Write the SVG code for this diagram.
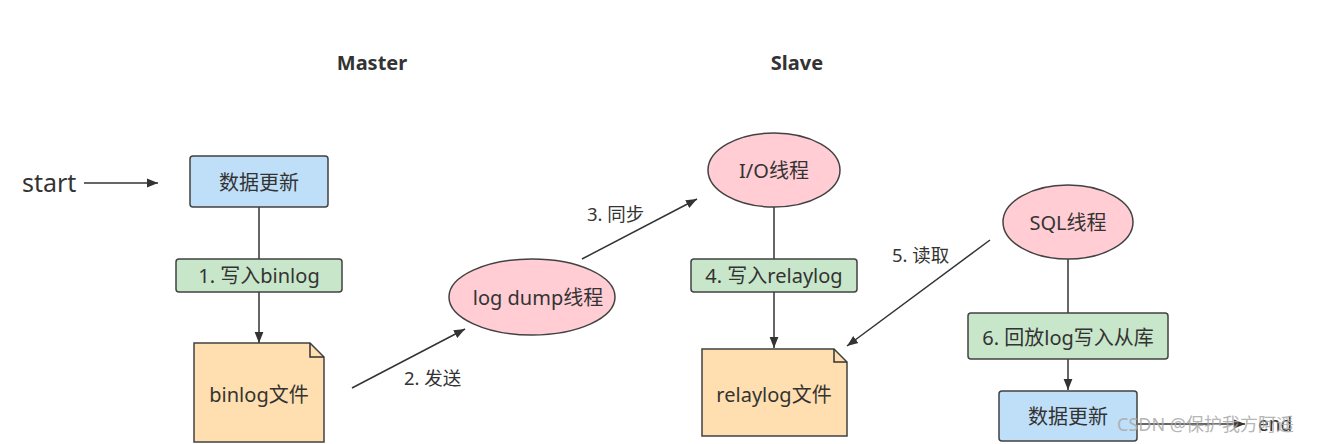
<svg xmlns="http://www.w3.org/2000/svg" width="1322" height="444" viewBox="0 0 1322 444">
<defs>
<style>
text{font-family:"Noto Sans","Noto Sans CJK SC",sans-serif;fill:#333;}
.t{font-size:20px;text-anchor:middle;dominant-baseline:central;}
.lb{font-size:18.5px;}
.h{font-size:20px;font-weight:bold;text-anchor:middle;}
.blue{fill:#bfdff9;stroke:#424242;stroke-width:1.5;}
.green{fill:#c8e6ca;stroke:#424242;stroke-width:1.5;}
.pink{fill:#ffcdd3;stroke:#424242;stroke-width:1.5;}
.doc{fill:#ffdfb0;stroke:#424242;stroke-width:1.5;}
.ln{stroke:#333;stroke-width:1.5;fill:none;}
.arr{stroke:#333;stroke-width:1.5;fill:none;marker-end:url(#ah);}
</style>
<marker id="ah" viewBox="0 0 10 10" refX="10" refY="5" markerWidth="11" markerHeight="11" markerUnits="userSpaceOnUse" orient="auto">
<path d="M0,1 L10,5 L0,9 z" fill="#333"/>
</marker>
</defs>

<text class="h" x="372" y="70">Master</text>
<text class="h" x="797" y="70">Slave</text>

<g id="connectors">
<line class="arr" x1="84" y1="183" x2="158" y2="183"/>
<line class="ln" x1="259" y1="207" x2="259" y2="259"/>
<line class="arr" x1="259" y1="292" x2="259" y2="343"/>
<line class="arr" x1="352" y1="388" x2="465" y2="329"/>
<line class="arr" x1="582" y1="259" x2="697" y2="199"/>
<line class="ln" x1="774" y1="207" x2="774" y2="259"/>
<line class="arr" x1="774" y1="292" x2="774" y2="348"/>
<line class="arr" x1="990" y1="240" x2="847" y2="346"/>
<line class="ln" x1="1068" y1="259" x2="1068" y2="313"/>
<line class="arr" x1="1068" y1="359" x2="1068" y2="390"/>
<line class="arr" x1="1138" y1="424" x2="1245" y2="424"/>
<text class="lb" x="404" y="385">2. 发送</text>
<text class="lb" x="587" y="221">3. 同步</text>
<text class="lb" x="892" y="262">5. 读取</text>
</g>

<g id="start"><text x="22" y="192" style="font-size:25px">start</text></g>
<g id="end"><text x="1258" y="431" style="font-size:19px">end</text></g>

<g id="update1">
<rect class="blue" x="190" y="156" width="138" height="51" rx="3"/>
<text class="t" x="259" y="182">数据更新</text>
</g>
<g id="step1">
<rect class="green" x="176" y="259" width="166" height="33" rx="3"/>
<text class="t" x="259" y="275">1. 写入binlog</text>
</g>
<g id="binlog">
<path class="doc" d="M194,343 H310 L324,357 V442 H194 Z"/>
<path class="ln" d="M310,343 V357 H324"/>
<text class="t" x="259" y="394">binlog文件</text>
</g>
<g id="dump">
<ellipse class="pink" cx="532" cy="297" rx="83" ry="38"/>
<text class="t" x="538" y="297">log dump线程</text>
</g>
<g id="io">
<ellipse class="pink" cx="774" cy="170" rx="66" ry="37"/>
<text class="t" x="774" y="170">I/O线程</text>
</g>
<g id="step4">
<rect class="green" x="691" y="259" width="166" height="33" rx="3"/>
<text class="t" x="774" y="275">4. 写入relaylog</text>
</g>
<g id="relaylog">
<path class="doc" d="M702,349 H834 L847,362 V436 H702 Z"/>
<path class="ln" d="M834,349 V362 H847"/>
<text class="t" x="774" y="394">relaylog文件</text>
</g>
<g id="sql">
<ellipse class="pink" cx="1068" cy="222" rx="65" ry="37"/>
<text class="t" x="1068" y="222">SQL线程</text>
</g>
<g id="step6">
<rect class="green" x="968" y="313" width="200" height="46" rx="3"/>
<text class="t" x="1068" y="337">6. 回放log写入从库</text>
</g>
<g id="update2">
<rect class="blue" x="999" y="391" width="138" height="50" rx="3"/>
<text class="t" x="1068" y="416">数据更新</text>
</g>
<text x="1117" y="431" style="font-size:18px;fill:#aaa;opacity:0.85">CSDN @保护我方阿遥</text>
</svg>
